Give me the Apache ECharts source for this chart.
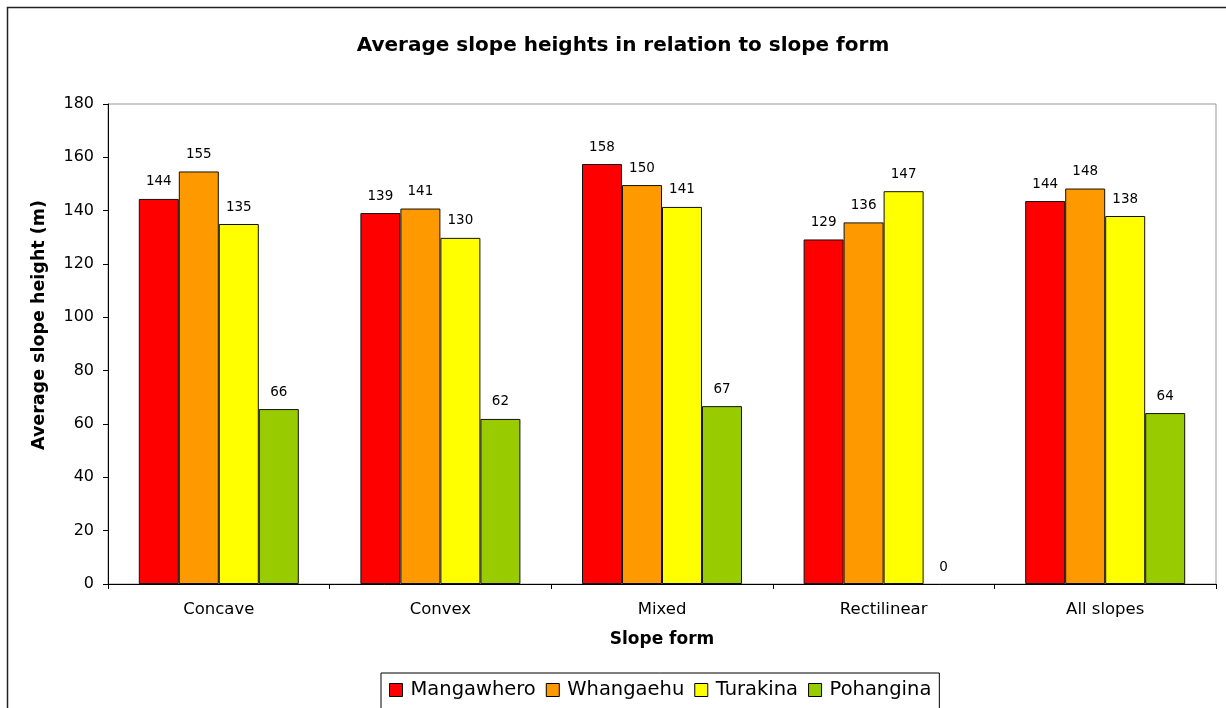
<!DOCTYPE html>
<html>
<head>
<meta charset="utf-8">
<script src="https://cdn.jsdelivr.net/npm/echarts@6/dist/echarts.min.js"></script>
<style>
html,body{margin:0;padding:0;background:#fff;}
#chart{width:1226px;height:708px;}
</style>
</head>
<body>
<div id="chart"></div>
<script>
const categories = ['Concave', 'Convex', 'Mixed', 'Rectilinear', 'All slopes'];
const seriesNames = ['Mangawhero', 'Whangaehu', 'Turakina', 'Pohangina'];
const mangawhero = [144.4, 139.1, 157.5, 129.2, 143.6];
const whangaehu = [154.7, 140.8, 149.6, 135.6, 148.3];
const turakina = [135.0, 129.8, 141.4, 147.3, 138.0];
const pohangina = [65.6, 61.9, 66.7, 0, 64.1];
const colors = ['#FF0000', '#FF9900', '#FFFF00', '#99CC00'];
const yTicks = { min: 0, max: 180, interval: 20 };

const FONT = '"DejaVu Sans", sans-serif';
const chart = echarts.init(document.getElementById('chart'), null, { renderer: 'canvas' });
const allData = [mangawhero, whangaehu, turakina, pohangina];

const option = {
  backgroundColor: '#fff',
  animation: false,
  textStyle: { fontFamily: FONT, color: '#000' },
  title: {
    text: 'Average slope heights in relation to slope form',
    left: 618, top: 31, textAlign: 'center',
    textStyle: { fontFamily: FONT, fontSize: 20, fontWeight: 'bold', color: '#000' }
  },
  graphic: [{
    type: 'rect', silent: true, z: -1,
    shape: { x: 7.5, y: 7.5, width: 1240, height: 740 },
    style: { fill: 'none', stroke: '#222', lineWidth: 1.5 }
  }],
  legend: {
    data: seriesNames,
    left: 381, top: 673,
    orient: 'horizontal',
    padding: [7, 8, 14, 8],
    itemGap: 10,
    itemWidth: 13, itemHeight: 13,
    icon: 'rect',
    borderColor: '#000', borderWidth: 1,
    backgroundColor: '#fff',
    itemStyle: { borderColor: '#000', borderWidth: 1 },
    textStyle: { fontFamily: FONT, fontSize: 19.5, color: '#000', padding: [0, 0, 0, 3] }
  },
  grid: {
    left: 108, right: 10, top: 104, bottom: 124,
    show: true, borderColor: '#999', borderWidth: 1, backgroundColor: 'transparent'
  },
  xAxis: {
    type: 'category',
    data: categories,
    name: 'Slope form', nameLocation: 'middle', nameGap: 47,
    nameTextStyle: { fontFamily: FONT, fontSize: 17, fontWeight: 'bold', color: '#000' },
    axisLine: { show: true, lineStyle: { color: '#000', width: 1 } },
    axisTick: { show: true, length: 5, alignWithLabel: false, lineStyle: { color: '#000' } },
    axisLabel: { fontFamily: FONT, fontSize: 16.5, color: '#000', margin: 17 },
    splitLine: { show: false }
  },
  yAxis: {
    type: 'value',
    min: yTicks.min, max: yTicks.max, interval: yTicks.interval,
    name: 'Average slope height (m)', nameLocation: 'middle', nameGap: 60,
    nameTextStyle: { fontFamily: FONT, fontSize: 17.5, fontWeight: 'bold', color: '#000', padding: [0, 0, 0, 38] },
    axisLine: { show: true, lineStyle: { color: '#000', width: 1 } },
    axisTick: { show: true, length: 5, inside: false, lineStyle: { color: '#000' } },
    axisLabel: { fontFamily: FONT, fontSize: 16, color: '#000', margin: 14 },
    splitLine: { show: false }
  },
  series: seriesNames.map((name, i) => ({
    name: name,
    type: 'bar',
    data: allData[i].map(v => v === 0 ? { value: v, itemStyle: { borderWidth: 0 } } : v),
    barGap: '0%',
    barCategoryGap: '27.8%',
    itemStyle: { color: colors[i], borderColor: '#111', borderWidth: 1 },
    label: {
      show: true, position: 'top', distance: 10,
      fontFamily: FONT, fontSize: 13.5, color: '#000',
      formatter: p => Math.round(p.value)
    }
  }))
};
chart.setOption(option);
</script>
</body>
</html>
